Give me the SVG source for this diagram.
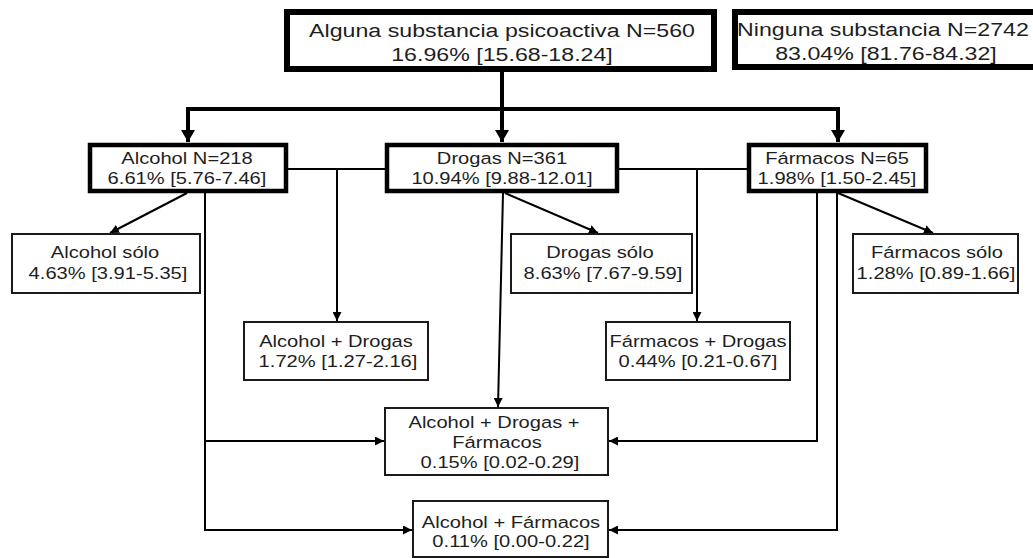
<svg xmlns="http://www.w3.org/2000/svg" width="1033" height="558" viewBox="0 0 1033 558">
<style>
.t{font-family:"Liberation Sans",Arial,sans-serif;fill:#1e1e1e;text-anchor:middle}
.big{font-size:19px}
.med{font-size:16.5px}
.b1{fill:#fff;stroke:#000;stroke-width:6}
.b2{fill:#fff;stroke:#000;stroke-width:4.5}
.b3{fill:#fff;stroke:#1a1a1a;stroke-width:2}
.thick{fill:none;stroke:#000;stroke-width:4}
.thin{fill:none;stroke:#000;stroke-width:2}
</style>
<defs>
<marker id="ah1" markerUnits="userSpaceOnUse" markerWidth="14" markerHeight="14" viewBox="0 0 12 14" refX="12" refY="7" orient="auto">
<path d="M0,0 L12,7 L0,14 Z" fill="#000"/>
</marker>
<marker id="ah2" markerUnits="userSpaceOnUse" markerWidth="9" markerHeight="9" viewBox="0 0 9 9" refX="9" refY="4.5" orient="auto">
<path d="M0,0 L9,4.5 L0,9 Z" fill="#000"/>
</marker>
</defs>
<g id="connectors">
<path class="thick" d="M502,72 V142" marker-end="url(#ah1)"/>
<path class="thick" d="M188,109 H838"/>
<path class="thick" d="M188,107 V142" marker-end="url(#ah1)"/>
<path class="thick" d="M838,107 V142" marker-end="url(#ah1)"/>
<path class="thin" d="M288,169 H385"/>
<path class="thin" d="M337,169 V321" marker-end="url(#ah2)"/>
<path class="thin" d="M619,169 H747"/>
<path class="thin" d="M697,169 V321" marker-end="url(#ah2)"/>
<path class="thin" d="M187,193 L110,233" marker-end="url(#ah2)"/>
<path class="thin" d="M505,193 L598,233" marker-end="url(#ah2)"/>
<path class="thin" d="M838,193 L933,233" marker-end="url(#ah2)"/>
<path class="thin" d="M503,193 L498,407" marker-end="url(#ah2)"/>
<path class="thin" d="M205,193 V530 H412" marker-end="url(#ah2)"/>
<path class="thin" d="M205,441 H384" marker-end="url(#ah2)"/>
<path class="thin" d="M817,193 V441 H609" marker-end="url(#ah2)"/>
<path class="thin" d="M837,193 V530 H609" marker-end="url(#ah2)"/>
</g>
<g id="alguna">
<rect class="b1" x="287" y="12" width="427" height="57"/>
<text class="t big" transform="translate(502,37) scale(1.22,1)">Alguna substancia psicoactiva N=560</text>
<text class="t big" transform="translate(502,61) scale(1.22,1)">16.96% [15.68-18.24]</text>
</g>
<g id="ninguna">
<rect class="b1" x="735" y="12" width="320" height="55"/>
<text class="t big" transform="translate(883,36) scale(1.22,1)">Ninguna substancia N=2742</text>
<text class="t big" transform="translate(886,60) scale(1.22,1)">83.04% [81.76-84.32]</text>
</g>
<g id="alcohol">
<rect class="b2" x="90" y="145" width="196" height="46"/>
<text class="t med" transform="translate(187,164) scale(1.22,1)">Alcohol N=218</text>
<text class="t med" transform="translate(187,184) scale(1.22,1)">6.61% [5.76-7.46]</text>
</g>
<g id="drogas">
<rect class="b2" x="387" y="145" width="230" height="46"/>
<text class="t med" transform="translate(502,164) scale(1.22,1)">Drogas N=361</text>
<text class="t med" transform="translate(502,184) scale(1.22,1)">10.94% [9.88-12.01]</text>
</g>
<g id="farmacos">
<rect class="b2" x="749" y="145" width="177" height="46"/>
<text class="t med" transform="translate(837,164) scale(1.22,1)">Fármacos N=65</text>
<text class="t med" transform="translate(837,184) scale(1.22,1)">1.98% [1.50-2.45]</text>
</g>
<g id="alcohol-solo">
<rect class="b3" x="12" y="234" width="188" height="59"/>
<text class="t med" transform="translate(105,258) scale(1.22,1)">Alcohol sólo</text>
<text class="t med" transform="translate(108,279) scale(1.22,1)">4.63% [3.91-5.35]</text>
</g>
<g id="drogas-solo">
<rect class="b3" x="511" y="234" width="181" height="59"/>
<text class="t med" transform="translate(600,258) scale(1.22,1)">Drogas sólo</text>
<text class="t med" transform="translate(603,279) scale(1.22,1)">8.63% [7.67-9.59]</text>
</g>
<g id="farmacos-solo">
<rect class="b3" x="853" y="234" width="165" height="59"/>
<text class="t med" transform="translate(937,258) scale(1.22,1)">Fármacos sólo</text>
<text class="t med" transform="translate(936,279) scale(1.22,1)">1.28% [0.89-1.66]</text>
</g>
<g id="alcohol-drogas">
<rect class="b3" x="244" y="322" width="184" height="58"/>
<text class="t med" transform="translate(336,347) scale(1.22,1)">Alcohol + Drogas</text>
<text class="t med" transform="translate(338,367) scale(1.22,1)">1.72% [1.27-2.16]</text>
</g>
<g id="farmacos-drogas">
<rect class="b3" x="606" y="322" width="184" height="58"/>
<text class="t med" transform="translate(698,347) scale(1.22,1)">Fármacos + Drogas</text>
<text class="t med" transform="translate(698,367) scale(1.22,1)">0.44% [0.21-0.67]</text>
</g>
<g id="alcohol-drogas-farmacos">
<rect class="b3" x="385" y="408" width="223" height="67"/>
<text class="t med" transform="translate(494,428) scale(1.22,1)">Alcohol + Drogas +</text>
<text class="t med" transform="translate(497,448) scale(1.22,1)">Fármacos</text>
<text class="t med" transform="translate(500,468) scale(1.22,1)">0.15% [0.02-0.29]</text>
</g>
<g id="alcohol-farmacos">
<rect class="b3" x="413" y="501" width="195" height="56"/>
<text class="t med" transform="translate(511,528) scale(1.22,1)">Alcohol + Fármacos</text>
<text class="t med" transform="translate(511,547) scale(1.22,1)">0.11% [0.00-0.22]</text>
</g>
</svg>
